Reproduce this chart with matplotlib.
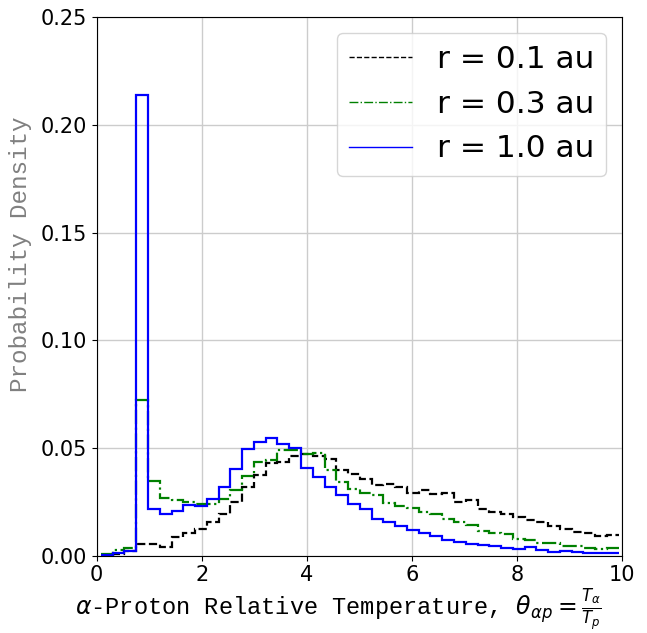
import numpy as np
import matplotlib
matplotlib.use("Agg")
import matplotlib.pyplot as plt
from matplotlib.lines import Line2D

# Histogram bins
bin_start = 0.08
bin_width = 0.224
n_bins = 44

labels = ["r = 0.1 au", "r = 0.3 au", "r = 1.0 au"]

dens_01 = [0.0005, 0.0010, 0.0020, 0.0056, 0.0054, 0.0042, 0.0088, 0.0108, 0.0124, 0.0157,
           0.0195, 0.0250, 0.0320, 0.0374, 0.0431, 0.0435, 0.0462, 0.0474, 0.0462, 0.0448,
           0.0397, 0.0378, 0.0354, 0.0327, 0.0335, 0.0320, 0.0292, 0.0304, 0.0288, 0.0290,
           0.0250, 0.0258, 0.0219, 0.0204, 0.0196, 0.0181, 0.0168, 0.0157, 0.0138, 0.0122,
           0.0111, 0.0106, 0.0091, 0.0096]

dens_03 = [0.0008, 0.0026, 0.0037, 0.0725, 0.0346, 0.0266, 0.0258, 0.0250, 0.0239, 0.0240,
           0.0264, 0.0304, 0.0370, 0.0437, 0.0443, 0.0493, 0.0490, 0.0474, 0.0477, 0.0397,
           0.0343, 0.0312, 0.0292, 0.0280, 0.0247, 0.0231, 0.0222, 0.0205, 0.0194, 0.0170,
           0.0157, 0.0145, 0.0115, 0.0106, 0.0100, 0.0076, 0.0073, 0.0060, 0.0057, 0.0045,
           0.0045, 0.0034, 0.0030, 0.0034]

dens_10 = [0.0005, 0.0014, 0.0023, 0.2140, 0.0215, 0.0196, 0.0208, 0.0235, 0.0230, 0.0262,
           0.0318, 0.0405, 0.0497, 0.0530, 0.0548, 0.0520, 0.0500, 0.0407, 0.0365, 0.0320,
           0.0283, 0.0238, 0.0215, 0.0172, 0.0156, 0.0140, 0.0120, 0.0107, 0.0094, 0.0073,
           0.0062, 0.0053, 0.0048, 0.0045, 0.0034, 0.0030, 0.0039, 0.0026, 0.0019, 0.0023,
           0.0019, 0.0014, 0.0014, 0.0011]

xticks = [0, 2, 4, 6, 8, 10]
yticks = [0.00, 0.05, 0.10, 0.15, 0.20, 0.25]

edges = bin_start + bin_width * np.arange(n_bins + 1)

fig = plt.figure(figsize=(6.47, 6.33), dpi=100)
ax = fig.add_axes([0.1495, 0.122, 0.812, 0.851])

styles = [dict(color="black", ls="--"), dict(color="green", ls="-."), dict(color="blue", ls="-")]
for vals, st in zip([dens_01, dens_03, dens_10], styles):
    ax.stairs(vals, edges, baseline=None, fill=False, lw=1.6, **st)

ax.set_xlim(0, 10)
ax.set_ylim(0, 0.25)
ax.set_xticks(xticks)
ax.set_yticks(yticks)
ax.set_yticklabels([f"{v:.2f}" for v in yticks])
ax.tick_params(labelsize=15)
ax.grid(True, color="#cccccc", lw=1)
ax.set_axisbelow(True)

ax.set_ylabel("Probability Density", family="Liberation Mono", fontsize=17.5, color="#808080")
ax.yaxis.set_label_coords(-0.123, 0.56)
ax.set_xlabel(r"$\alpha$-Proton Relative Temperature, $\theta_{\alpha p} = \frac{T_\alpha}{T_p}$",
              family="Liberation Mono", fontsize=17)
ax.xaxis.set_label_coords(0.46, -0.056)

handles = [Line2D([], [], lw=1.0, **st) for st in styles]
ax.legend(handles, labels, loc="upper right", fontsize=22.5)

fig.savefig("out.png", dpi=100)
